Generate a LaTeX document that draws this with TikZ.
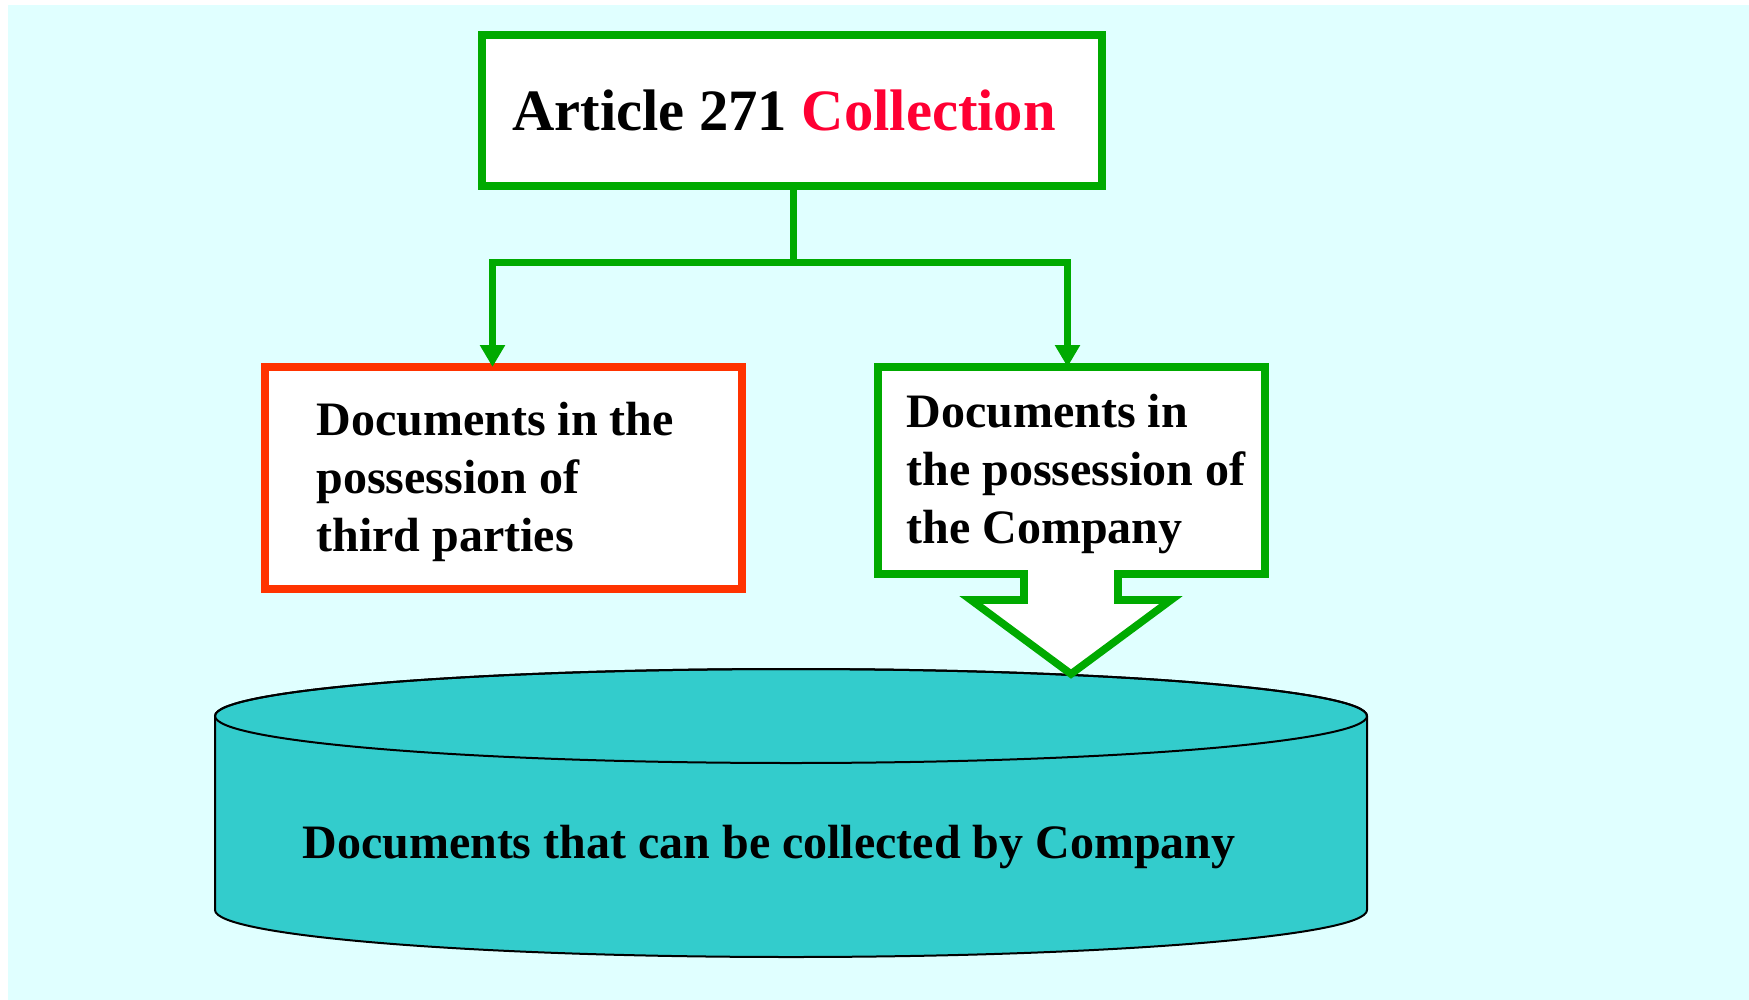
\documentclass[tikz,border=0pt]{standalone}
\usepackage{fontspec}
\setmainfont{Liberation Serif}
\usetikzlibrary{arrows.meta}
\usepackage{xcolor}
\definecolor{skyback}{HTML}{E0FFFF}
\definecolor{boxgreen}{HTML}{00AA00}
\definecolor{boxred}{HTML}{FF3300}
\definecolor{wordred}{HTML}{FF0033}
\definecolor{tealfill}{HTML}{33CCCC}

\begin{document}
\begin{tikzpicture}[x=0.5pt,y=-0.5pt,
	box/.style={rectangle,draw,fill=white,line width=3.8pt,inner sep=0pt,outer sep=0pt},
	txt/.style={font=\fontsize{24}{29}\selectfont\bfseries,align=left,inner sep=0pt},
	link/.style={draw=boxgreen,line width=3.5pt,-{Triangle[width=12pt,length=11pt]}}]
	\useasboundingbox (0,0) rectangle (1749,1000);
	\fill[white] (0,0) rectangle (1749,1000);
	\fill[skyback] (8,5) rectangle (1749,1000);
	\filldraw[fill=tealfill,draw=black,line width=1pt] (215,716) -- (215,910)
		arc[start angle=180,end angle=0,x radius=576,y radius=47] -- (1367,716)
		arc[start angle=0,end angle=-180,x radius=576,y radius=47] -- cycle;
	\draw[black,line width=1pt] (791,716) ellipse [x radius=576,y radius=47];
	\node (store) at (769,847) [txt] {Documents that can be collected by Company};
	\coordinate (tip) at (1071,674);
	\filldraw[fill=white,draw=boxgreen,line width=3.8pt] (878,367) -- (1265,367) -- (1265,574)
		-- (1118,574) -- (1118,600) -- (1171,600) -- (tip) -- (971,600) -- (1024,600)
		-- (1024,574) -- (878,574) -- cycle;
	\node (title) at (792,110.5) [box,draw=boxgreen,minimum width=310pt,minimum height=75.5pt,
		font=\fontsize{29.3}{34}\selectfont\bfseries] {Article 271 \textcolor{wordred}{Collection}\hspace*{8pt}};
	\node (third) at (503.5,478) [box,draw=boxred,minimum width=238.5pt,minimum height=111pt] {};
	\node (thirdtext) at (316,402) [txt,anchor=north west] {Documents in the\\possession of\\third parties};
	\node (company) at (1071.5,470.5) [minimum width=193.5pt,minimum height=103.5pt,inner sep=0pt,outer sep=0pt] {};
	\node (companytext) at (906,394) [txt,anchor=north west] {Documents in\\the possession of\\the Company};
	\coordinate (split) at (793,262);
	\draw [link] ([xshift=0.5pt]title.south) -- (split) -| ([xshift=-5.5pt]third.north);
	\draw [link] (split) -| ([xshift=-2pt]company.north);
\end{tikzpicture}
\end{document}
